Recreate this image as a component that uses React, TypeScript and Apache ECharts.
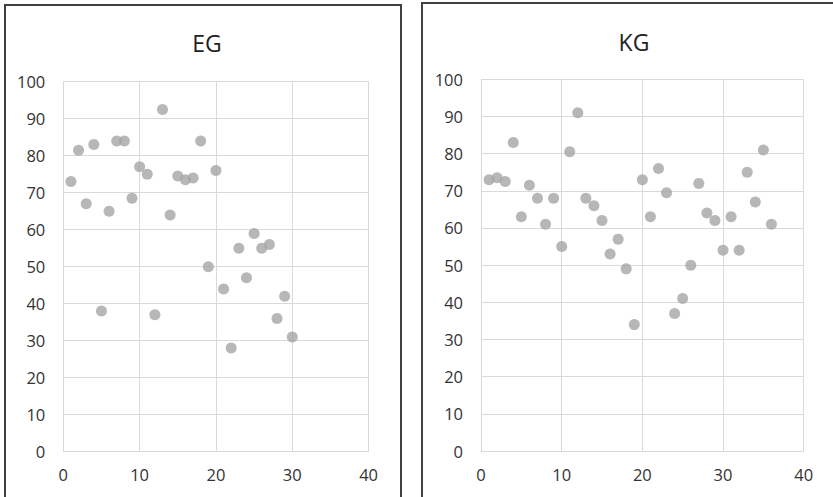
import React, { useEffect, useRef } from "react";
import * as echarts from "echarts";

const egTitle = "EG";
const kgTitle = "KG";
const egX = [1, 2, 3, 4, 5, 6, 7, 8, 9, 10, 11, 12, 13, 14, 15, 16, 17, 18, 19, 20, 21, 22, 23, 24, 25, 26, 27, 28, 29, 30];
const egY = [73, 81.5, 67, 83, 38, 65, 84, 84, 68.5, 77, 75, 37, 92.5, 64, 74.5, 73.5, 74, 84, 50, 76, 44, 28, 55, 47, 59, 55, 56, 36, 42, 31];
const kgX = [1, 2, 3, 4, 5, 6, 7, 8, 9, 10, 11, 12, 13, 14, 15, 16, 17, 18, 19, 20, 21, 22, 23, 24, 25, 26, 27, 28, 29, 30, 31, 32, 33, 34, 35, 36];
const kgY = [73, 73.5, 72.5, 83, 63, 71.5, 68, 61, 68, 55, 80.5, 91, 68, 66, 62, 53, 57, 49, 34, 73, 63, 76, 69.5, 37, 41, 50, 72, 64, 62, 54, 63, 54, 75, 67, 81, 61];

const FONT = "'Open Sans', 'Noto Sans', sans-serif";
const GRID = "#d9d9d9";
const LABEL = "#333333";
const MARK = "#a5a5a5";

function xAxis(gridIndex: number) {
  return {
    type: "value",
    gridIndex,
    min: 0,
    max: 40,
    interval: 10,
    axisLine: { show: true, lineStyle: { color: GRID, width: 1 } },
    axisTick: { show: false },
    splitLine: { show: true, lineStyle: { color: GRID, width: 1 } },
    axisLabel: { color: LABEL, fontFamily: FONT, fontSize: 16.5, margin: 14.5 },
  };
}
function yAxis(gridIndex: number) {
  return {
    type: "value",
    gridIndex,
    min: 0,
    max: 100,
    interval: 10,
    axisLine: { show: true, lineStyle: { color: GRID, width: 1 } },
    axisTick: { show: false },
    splitLine: { show: true, lineStyle: { color: GRID, width: 1 } },
    axisLabel: { color: LABEL, fontFamily: FONT, fontSize: 16.5, margin: 18 },
  };
}

export default function App() {
  const ref = useRef<HTMLDivElement>(null);
  useEffect(() => {
    if (!ref.current) return;
    const chart = echarts.init(ref.current, null, { renderer: "svg" });
    chart.setOption({
      animation: false,
      backgroundColor: "#ffffff",
      title: [
        {
          text: egTitle,
          left: 202,
          top: 26,
          textAlign: "center",
          textStyle: { fontFamily: FONT, fontSize: 23, fontWeight: "normal", color: "#222222" },
        },
        {
          text: kgTitle,
          left: 629,
          top: 25,
          textAlign: "center",
          textStyle: { fontFamily: FONT, fontSize: 23, fontWeight: "normal", color: "#222222" },
        },
      ],
      grid: [
        { left: 63.3, top: 81.7, width: 305.3, height: 370 },
        { left: 481, top: 79.3, width: 322.7, height: 371.7 },
      ],
      xAxis: [xAxis(0), xAxis(1)],
      yAxis: [yAxis(0), yAxis(1)],
      series: [
        {
          type: "scatter",
          xAxisIndex: 0,
          yAxisIndex: 0,
          symbolSize: 11,
          itemStyle: { color: MARK },
          data: egX.map((x, i) => [x, egY[i]]),
        },
        {
          type: "scatter",
          xAxisIndex: 1,
          yAxisIndex: 1,
          symbolSize: 11,
          itemStyle: { color: MARK },
          data: kgX.map((x, i) => [x, kgY[i]]),
        },
      ],
      graphic: [
        {
          type: "rect",
          shape: { x: 5, y: 5, width: 396, height: 600 },
          style: { fill: "none", stroke: "#404040", lineWidth: 2 },
          silent: true,
        },
        {
          type: "rect",
          shape: { x: 422, y: 3, width: 500, height: 600 },
          style: { fill: "none", stroke: "#404040", lineWidth: 2 },
          silent: true,
        },
      ],
    });
    return () => chart.dispose();
  }, []);
  return (
    <div
      ref={ref}
      style={{ position: "fixed", left: 0, top: 0, width: 833, height: 497, background: "#fff" }}
    />
  );
}
